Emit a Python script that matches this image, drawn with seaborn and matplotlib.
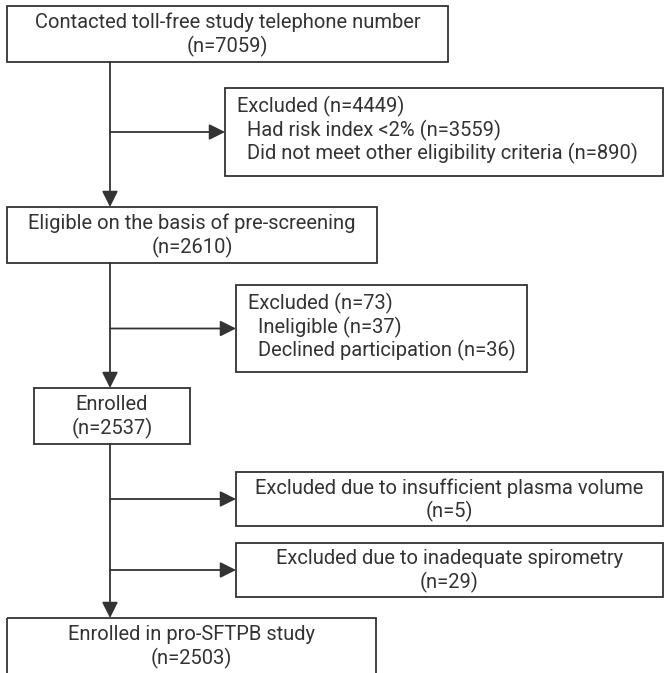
import matplotlib
matplotlib.use('Agg')
import matplotlib.pyplot as plt
import seaborn as sns
from matplotlib.patches import Rectangle

sns.set_theme(style='white')
plt.rcParams['font.family'] = ['Roboto', 'DejaVu Sans']

# flow counts
contacted = 7059
excl_risk = 3559
excl_other = 890
eligible = 2610
excl_inelig = 37
excl_declined = 36
enrolled = 2537
excl_plasma = 5
excl_spiro = 29
final_n = 2503

main_labels = ['Contacted toll-free study telephone number',
               'Eligible on the basis of pre-screening',
               'Enrolled',
               'Enrolled in pro-SFTPB study']
main_counts = [contacted, eligible, enrolled, final_n]

side_titles = ['Excluded', 'Excluded']
side_items = [['Had risk index <2%', 'Did not meet other eligibility criteria'],
              ['Ineligible', 'Declined participation']]
side_counts = [[excl_risk, excl_other], [excl_inelig, excl_declined]]

late_labels = ['Excluded due to insufficient plasma volume',
               'Excluded due to inadequate spirometry']
late_counts = [excl_plasma, excl_spiro]

ink = '#333333'
fs = 14.5
lw = 1.3
spine_x = 110

fig = plt.figure(figsize=(6.64, 6.73), dpi=100)
ax = fig.add_axes([0, 0, 1, 1])
ax.set_xlim(0, 664)
ax.set_ylim(673, 0)
ax.axis('off')


def box(x0, y0, x1, y1):
    ax.add_patch(Rectangle((x0, y0), x1 - x0, y1 - y0, fill=False,
                           edgecolor=ink, linewidth=lw, clip_on=True))


def arrow(x0, y0, x1, y1):
    ax.annotate('', xy=(x1, y1), xytext=(x0, y0),
                arrowprops=dict(arrowstyle='-|>,head_length=0.8,head_width=0.4',
                                color=ink, lw=lw, shrinkA=0, shrinkB=0,
                                mutation_scale=12))


# main boxes (x0, y0, x1, y1)
main_boxes = [(7, 6, 448, 62), (7, 207, 377, 263), (34, 388, 190, 444), (7, 618, 376, 700)]
for (x0, y0, x1, y1), lab, n in zip(main_boxes, main_labels, main_counts):
    box(x0, y0, x1, y1)
    cx = (x0 + x1) / 2
    ax.text(cx, y0 + 16, lab, ha='center', va='center', fontsize=fs, color=ink)
    ax.text(cx, y0 + 40, f'(n={n})', ha='center', va='center', fontsize=fs, color=ink)

# spine arrows between main boxes
for a, b in zip(main_boxes[:-1], main_boxes[1:]):
    arrow(spine_x, a[3], spine_x, b[1])

# side exclusion boxes with sub-items
side_boxes = [(225, 88, 663, 176), (236, 285, 527, 372)]
for (x0, y0, x1, y1), title, items, counts in zip(side_boxes, side_titles, side_items, side_counts):
    box(x0, y0, x1, y1)
    arrow(spine_x, (y0 + y1) / 2, x0, (y0 + y1) / 2)
    ax.text(x0 + 12, y0 + 18, f'{title} (n={sum(counts)})', ha='left', va='center',
            fontsize=fs, color=ink)
    for i, (it, c) in enumerate(zip(items, counts)):
        ax.text(x0 + 22, y0 + 42 + 23 * i, f'{it} (n={c})', ha='left', va='center',
                fontsize=fs, color=ink)

# late exclusions
late_boxes = [(236, 472, 663, 526), (236, 543, 663, 597)]
for (x0, y0, x1, y1), lab, n in zip(late_boxes, late_labels, late_counts):
    box(x0, y0, x1, y1)
    arrow(spine_x, (y0 + y1) / 2, x0, (y0 + y1) / 2)
    cx = (x0 + x1) / 2
    ax.text(cx, y0 + 16, lab, ha='center', va='center', fontsize=fs, color=ink)
    ax.text(cx, y0 + 39, f'(n={n})', ha='center', va='center', fontsize=fs, color=ink)

fig.savefig('out.png', dpi=100)
